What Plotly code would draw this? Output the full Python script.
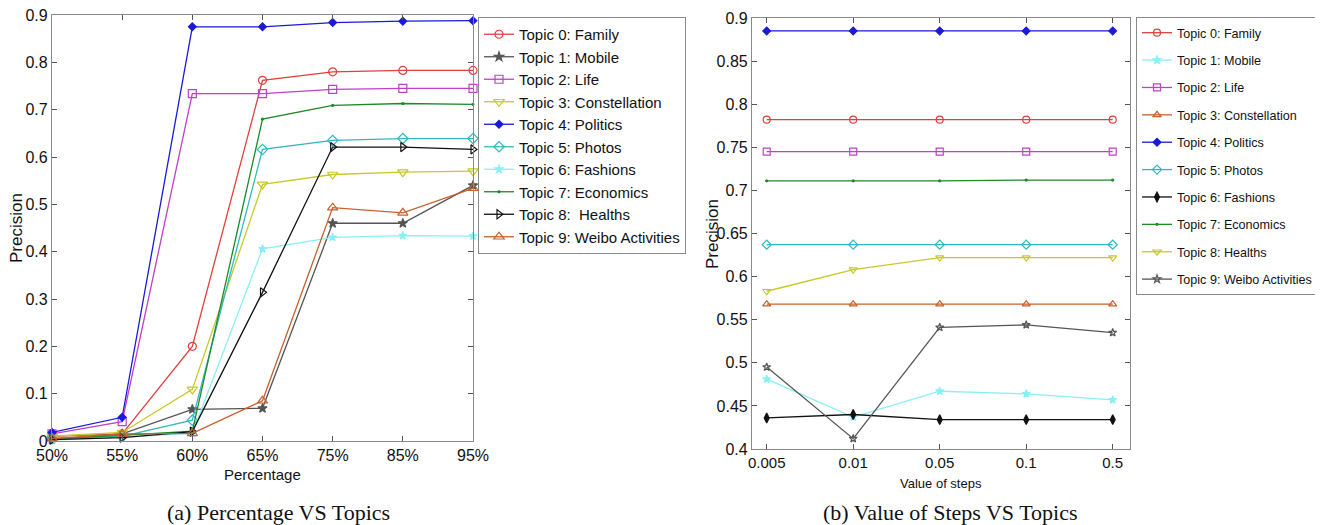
import plotly.graph_objects as go

# ---------- data ----------
pct_labels = ["50%", "55%", "60%", "65%", "75%", "85%", "95%"]
step_labels = ["0.005", "0.01", "0.05", "0.1", "0.5"]

left_names = ["Topic 0: Family", "Topic 1: Mobile", "Topic 2: Life", "Topic 3: Constellation",
              "Topic 4: Politics", "Topic 5: Photos", "Topic 6: Fashions", "Topic 7: Economics",
              "Topic 8:  Healths", "Topic 9: Weibo Activities"]
left_family = [0.010, 0.015, 0.200, 0.762, 0.780, 0.783, 0.783]
left_mobile = [0.003, 0.015, 0.067, 0.069, 0.460, 0.460, 0.540]
left_life = [0.015, 0.041, 0.734, 0.734, 0.743, 0.745, 0.745]
left_constellation = [0.010, 0.018, 0.109, 0.542, 0.563, 0.568, 0.570]
left_politics = [0.018, 0.050, 0.875, 0.875, 0.884, 0.887, 0.888]
left_photos = [0.005, 0.010, 0.044, 0.616, 0.635, 0.639, 0.639]
left_fashions = [0.002, 0.008, 0.016, 0.406, 0.430, 0.434, 0.433]
left_economics = [0.005, 0.012, 0.021, 0.680, 0.709, 0.713, 0.711]
left_healths = [0.003, 0.007, 0.020, 0.314, 0.621, 0.621, 0.616]
left_weibo = [0.005, 0.015, 0.016, 0.085, 0.493, 0.482, 0.534]

right_names = ["Topic 0: Family", "Topic 1: Mobile", "Topic 2: Life", "Topic 3: Constellation",
               "Topic 4: Politics", "Topic 5: Photos", "Topic 6: Fashions", "Topic 7: Economics",
               "Topic 8: Healths", "Topic 9: Weibo Activities"]
right_family = [0.782, 0.782, 0.782, 0.782, 0.782]
right_mobile = [0.481, 0.437, 0.467, 0.464, 0.457]
right_life = [0.745, 0.745, 0.745, 0.745, 0.745]
right_constellation = [0.568, 0.568, 0.568, 0.568, 0.568]
right_politics = [0.885, 0.885, 0.885, 0.885, 0.885]
right_photos = [0.637, 0.637, 0.637, 0.637, 0.637]
right_fashions = [0.436, 0.440, 0.434, 0.434, 0.434]
right_economics = [0.711, 0.711, 0.711, 0.712, 0.712]
right_healths = [0.583, 0.608, 0.622, 0.622, 0.622]
right_weibo = [0.495, 0.412, 0.541, 0.544, 0.535]

left_y0 = [0, 0.1, 0.2, 0.3, 0.4, 0.5, 0.6, 0.7, 0.8, 0.9]
left_yt = ["0", "0.1", "0.2", "0.3", "0.4", "0.5", "0.6", "0.7", "0.8", "0.9"]
right_y0 = [0.4, 0.45, 0.5, 0.55, 0.6, 0.65, 0.7, 0.75, 0.8, 0.85, 0.9]
right_yt = ["0.4", "0.45", "0.5", "0.55", "0.6", "0.65", "0.7", "0.75", "0.8", "0.85", "0.9"]

# ---------- styles ----------
RED = "#e0403c"; GREY = "#555555"; MAG = "#c040c8"; YEL = "#c8c828"; BLUE = "#1a1ad8"
CYAN = "#30b8c0"; LCYAN = "#88f0f4"; GREEN = "#1e8a2a"; BLACK = "#111111"; BROWN = "#c8602c"

left_series = [left_family, left_mobile, left_life, left_constellation, left_politics,
               left_photos, left_fashions, left_economics, left_healths, left_weibo]
left_style = [(RED, "circle-open", 8), (GREY, "star", 7), (MAG, "square-open", 8),
              (YEL, "triangle-down-open", 9), (BLUE, "diamond", 6), (CYAN, "diamond-open", 8),
              (LCYAN, "star", 6), (GREEN, "circle", 2), (BLACK, "triangle-right-open", 8),
              (BROWN, "triangle-up-open", 9)]

right_series = [right_family, right_mobile, right_life, right_constellation, right_politics,
                right_photos, right_fashions, right_economics, right_healths, right_weibo]
right_style = [(RED, "circle-open", 7), (LCYAN, "star", 6), (MAG, "square-open", 7),
               (BROWN, "triangle-up-open", 7), (BLUE, "diamond", 6), (CYAN, "diamond-open", 7),
               (BLACK, "diamond-tall", 7), (GREEN, "circle", 2), (YEL, "triangle-down-open", 7),
               (GREY, "star-open", 6)]

fig = go.Figure()
for i, (name, ys, (c, sym, sz)) in enumerate(zip(left_names, left_series, left_style)):
    fig.add_trace(go.Scatter(x=pct_labels, y=ys, name=name, mode="lines+markers",
                             line=dict(color=c, width=1.3), legendgroup=f"a{i}",
                             marker=dict(symbol=sym, size=sz, color=c, line=dict(color=c, width=1.2)),
                             xaxis="x", yaxis="y", legend="legend", cliponaxis=False))
for i, (name, ys, (c, sym, sz)) in enumerate(zip(right_names, right_series, right_style)):
    fig.add_trace(go.Scatter(x=step_labels, y=ys, name=name, mode="lines+markers",
                             line=dict(color=c, width=1.3), legendgroup=f"b{i}",
                             marker=dict(symbol=sym, size=sz, color=c, line=dict(color=c, width=1.2)),
                             xaxis="x2", yaxis="y2", legend="legend2", cliponaxis=False))

# the page body has an 8px margin; compensate so page pixels match the reference
OFF = 8
W, H = 1323 - OFF, 525 - OFF
def fx(px): return (px - OFF) / W
def fy(py): return 1 - (py - OFF) / H

FONT = "Liberation Sans, Arial"
axis_common = dict(showline=True, linecolor="#8a8a8a", linewidth=1.2, mirror="ticks",
                   ticks="inside", ticklen=5, tickcolor="#555", showgrid=False, zeroline=False,
                   automargin=False, ticklabeloverflow="allow")

def ann(text, px, py, size, family=FONT, angle=0):
    return dict(text=text, x=fx(px), y=fy(py), xref="paper", yref="paper", textangle=angle,
                xanchor="center", yanchor="middle", showarrow=False,
                font=dict(family=family, size=size, color="#111"))

SERIF = "Liberation Serif, Times New Roman"

fig.update_layout(
    width=W, height=H, margin=dict(l=0, r=0, t=0, b=0, autoexpand=False),
    paper_bgcolor="white", plot_bgcolor="white", showlegend=True,
    xaxis=dict(domain=[fx(52), fx(473)], type="category", range=[0, 6], anchor="y",
               tickfont=dict(family=FONT, size=16, color="#111"), **axis_common),
    yaxis=dict(domain=[fy(441), fy(15)], range=[0, 0.9], tickvals=left_y0, ticktext=left_yt,
               anchor="x", tickfont=dict(family=FONT, size=16, color="#111"), **axis_common),
    xaxis2=dict(domain=[fx(752), fx(1130)], type="category", range=[-0.17, 4.2], anchor="y2",
                tickfont=dict(family=FONT, size=15, color="#111"), **axis_common),
    yaxis2=dict(domain=[fy(449), fy(18)], range=[0.4, 0.9], tickvals=right_y0, ticktext=right_yt,
                anchor="x2", tickfont=dict(family=FONT, size=16, color="#111"), **axis_common),
    legend=dict(x=fx(478), y=fy(17), xanchor="left", yanchor="top", bgcolor="white",
                bordercolor="#8a8a8a", borderwidth=1, tracegroupgap=0, itemwidth=30,
                font=dict(family=FONT, size=15, color="#111")),
    legend2=dict(x=fx(1136), y=fy(17), xanchor="left", yanchor="top", bgcolor="white",
                 bordercolor="#8a8a8a", borderwidth=1, tracegroupgap=8, itemwidth=30,
                 font=dict(family=FONT, size=12.6, color="#111")),
    annotations=[
        ann("Precision", 17, 228, 17, angle=-90),
        ann("Percentage", 262, 474, 15),
        ann("Precision", 712, 234, 17, angle=-90),
        ann("Value of steps", 941, 483, 13),
        ann("(a) Percentage VS Topics", 278, 512, 22, family=SERIF),
        ann("(b) Value of Steps VS Topics", 950, 512, 22, family=SERIF),
    ],
)

fig.write_html("out.html")
